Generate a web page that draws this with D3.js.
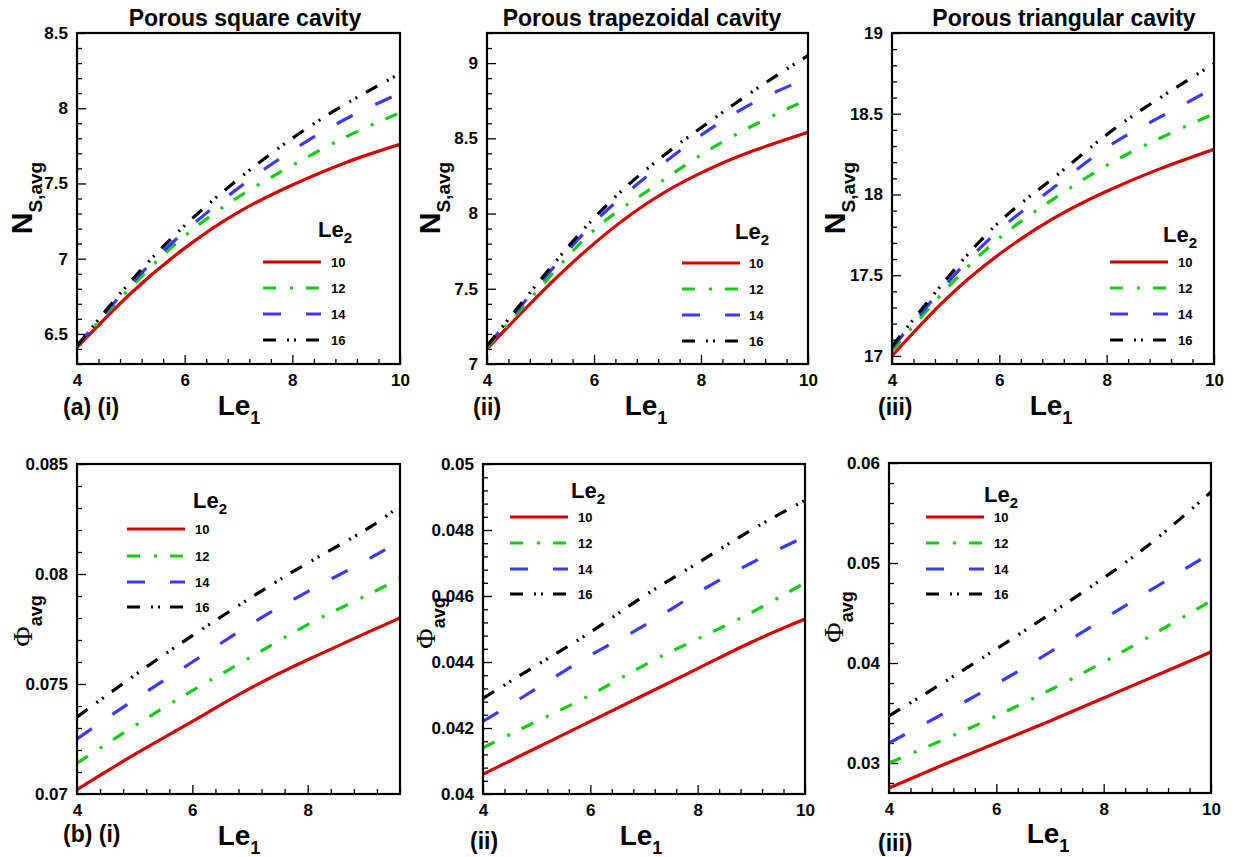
<!DOCTYPE html>
<html><head><meta charset="utf-8">
<script src="https://cdn.jsdelivr.net/npm/d3@7"></script>
<style>
body{margin:0;background:#fff;}
text{font-family:"Liberation Sans",Arial,Helvetica,sans-serif;font-weight:bold;fill:#000;}
.serif{font-family:"Liberation Serif","Times New Roman",serif;font-weight:normal;}
</style></head>
<body>
<svg id="chart" width="1237" height="857"></svg>
<script>
// ---------- data ----------
const le1Full = [4, 5, 6, 7, 8, 9, 10];
const le1Short = [4, 5, 6, 7, 8, 9, 9.6];
const le2Labels = ["10", "12", "14", "16"];

// (a)(i) N_S,avg porous square cavity
const nsSq10 = [6.41, 6.77, 7.07, 7.31, 7.49, 7.64, 7.76];
const nsSq12 = [6.42, 6.81, 7.15, 7.41, 7.62, 7.81, 7.97];
const nsSq14 = [6.42, 6.83, 7.18, 7.47, 7.72, 7.93, 8.10];
const nsSq16 = [6.42, 6.85, 7.22, 7.53, 7.80, 8.03, 8.23];
// (a)(ii) trapezoidal
const nsTrap10 = [7.10, 7.47, 7.80, 8.07, 8.27, 8.42, 8.54];
const nsTrap12 = [7.11, 7.51, 7.89, 8.15, 8.39, 8.59, 8.76];
const nsTrap14 = [7.12, 7.54, 7.94, 8.25, 8.52, 8.74, 8.90];
const nsTrap16 = [7.12, 7.56, 7.97, 8.30, 8.57, 8.82, 9.05];
// (a)(iii) triangular
const nsTri10 = [17.00, 17.35, 17.63, 17.85, 18.02, 18.16, 18.28];
const nsTri12 = [17.03, 17.41, 17.73, 17.97, 18.18, 18.35, 18.50];
const nsTri14 = [17.05, 17.44, 17.78, 18.04, 18.29, 18.48, 18.66];
const nsTri16 = [17.06, 17.47, 17.83, 18.10, 18.37, 18.60, 18.81];
// (b)(i) Phi_avg square
const phiSq10 = [0.0702, 0.0718, 0.0733, 0.0748, 0.0761, 0.0773, 0.0780];
const phiSq12 = [0.0714, 0.0731, 0.0747, 0.0762, 0.0777, 0.0790, 0.0798];
const phiSq14 = [0.0725, 0.0743, 0.0760, 0.0777, 0.0792, 0.0806, 0.0815];
const phiSq16 = [0.0735, 0.0754, 0.0772, 0.0789, 0.0805, 0.0820, 0.0831];
// (b)(ii) trapezoidal
const phiTrap10 = [0.0406, 0.0414, 0.0422, 0.0430, 0.0438, 0.0446, 0.0453];
const phiTrap12 = [0.0414, 0.0422, 0.0430, 0.0439, 0.0447, 0.0455, 0.0464];
const phiTrap14 = [0.0422, 0.0432, 0.0442, 0.0451, 0.0461, 0.0470, 0.0478];
const phiTrap16 = [0.0429, 0.0439, 0.0449, 0.0460, 0.0470, 0.0480, 0.0489];
// (b)(iii) triangular
const phiTri10 = [0.0275, 0.0298, 0.0320, 0.0342, 0.0365, 0.0388, 0.0411];
const phiTri12 = [0.0300, 0.0323, 0.0347, 0.0373, 0.0401, 0.0431, 0.0462];
const phiTri14 = [0.0320, 0.0349, 0.0379, 0.0411, 0.0444, 0.0477, 0.0510];
const phiTri16 = [0.0347, 0.0380, 0.0414, 0.0449, 0.0485, 0.0525, 0.0571];

// tick labels
const xTicksFull = [4, 6, 8, 10];
const xTicksShort = [4, 6, 8];
const yTicksNsSq = [6.5, 7, 7.5, 8, 8.5];
const yTicksNsTrap = [7, 7.5, 8, 8.5, 9];
const yTicksNsTri = [17, 17.5, 18, 18.5, 19];
const yTicksPhiSq = [0.07, 0.075, 0.08, 0.085];
const yTicksPhiTrap = [0.04, 0.042, 0.044, 0.046, 0.048, 0.05];
const yTicksPhiTri = [0.03, 0.04, 0.05, 0.06];

const titles = ["Porous square cavity", "Porous trapezoidal cavity", "Porous triangular cavity"];
const panelTags = ["(a) (i)", "(ii)", "(iii)", "(b) (i)", "(ii)", "(iii)"];

// ---------- styles ----------
const colors = ["#d40000", "#12cc12", "#3a3aff", "#000000"];
const dashes = [null, "13,14,3,13", "18,25", "13,11,2,5,2,10"];

// ---------- panel layout ----------
const panels = [
  {L:77, R:400, T:33, B:364, xd:[4,10], xt:xTicksFull, xm:0.4, yd:[6.3,8.5], yt:yTicksNsSq, ym:0.1,
   xs:le1Full, s:[nsSq10,nsSq12,nsSq14,nsSq16], kind:"ns",
   lg:{tx:318, ty:237, x0:263, x1:321, ys:[262,288,314,340], lx:331},
   yl:{x:32, y:198}, xl:{x:239, y:415}, tag:{x:63, y:415}, title:{x:245, y:26, t:titles[0]}, tagText:panelTags[0]},
  {L:487, R:808, T:33, B:364, xd:[4,10], xt:xTicksFull, xm:0.4, yd:[7,9.2], yt:yTicksNsTrap, ym:0.1,
   xs:le1Full, s:[nsTrap10,nsTrap12,nsTrap14,nsTrap16], kind:"ns",
   lg:{tx:735, ty:239, x0:682, x1:740, ys:[263,289,315,341], lx:749},
   yl:{x:440, y:198}, xl:{x:646, y:415}, tag:{x:473, y:415}, title:{x:642, y:26, t:titles[1]}, tagText:panelTags[1]},
  {L:892, R:1214, T:33, B:364, xd:[4,10], xt:xTicksFull, xm:0.4, yd:[16.95,19], yt:yTicksNsTri, ym:0.1,
   xs:le1Full, s:[nsTri10,nsTri12,nsTri14,nsTri16], kind:"ns",
   lg:{tx:1163, ty:242, x0:1110, x1:1168, ys:[262,288,314,340], lx:1178},
   yl:{x:845, y:198}, xl:{x:1051, y:415}, tag:{x:878, y:415}, title:{x:1064, y:26, t:titles[2]}, tagText:panelTags[2]},
  {L:77, R:400, T:464, B:794, xd:[4,9.6], xt:xTicksShort, xm:0.4, yd:[0.07,0.085], yt:yTicksPhiSq, ym:0.001,
   xs:le1Short, s:[phiSq10,phiSq12,phiSq14,phiSq16], kind:"phi",
   lg:{tx:193, ty:508, x0:127, x1:185, ys:[529,556,582,607], lx:195},
   yl:{x:32, y:621}, xl:{x:239, y:845}, tag:{x:63, y:842}, title:null, tagText:panelTags[3]},
  {L:483, R:805, T:464, B:794, xd:[4,10], xt:xTicksFull, xm:0.4, yd:[0.04,0.05], yt:yTicksPhiTrap, ym:0.0004,
   xs:le1Full, s:[phiTrap10,phiTrap12,phiTrap14,phiTrap16], kind:"phi",
   lg:{tx:571, ty:498, x0:510, x1:568, ys:[517,543,569,594], lx:578},
   yl:{x:435, y:623}, xl:{x:641, y:845}, tag:{x:470, y:849}, title:null, tagText:panelTags[4]},
  {L:889, R:1211, T:463, B:793, xd:[4,10], xt:xTicksFull, xm:0.4, yd:[0.027,0.06], yt:yTicksPhiTri, ym:0.002,
   xs:le1Full, s:[phiTri10,phiTri12,phiTri14,phiTri16], kind:"phi",
   lg:{tx:984, ty:502, x0:926, x1:984, ys:[517,543,569,594], lx:994},
   yl:{x:843, y:617}, xl:{x:1048, y:843}, tag:{x:878, y:851}, title:null, tagText:panelTags[5]}
];

const svg = d3.select("#chart");
const defs = svg.append("defs");

panels.forEach((p, i) => {
  const x = d3.scaleLinear().domain(p.xd).range([p.L, p.R]);
  const y = d3.scaleLinear().domain(p.yd).range([p.B, p.T]);
  const g = svg.append("g");

  defs.append("clipPath").attr("id", "clip" + i)
    .append("rect").attr("x", p.L).attr("y", p.T).attr("width", p.R - p.L).attr("height", p.B - p.T);

  // minor ticks
  const eps = 1e-9;
  const xMinor = d3.range(p.xd[0], p.xd[1] + eps, p.xm).filter(v => !p.xt.some(t => Math.abs(t - v) < 1e-6));
  const yMinor = d3.range(Math.ceil(p.yd[0] / p.ym - 1e-6) * p.ym, p.yd[1] + p.ym * 1e-3, p.ym)
    .filter(v => !p.yt.some(t => Math.abs(t - v) < p.ym * 1e-3));

  const xAxisMinor = d3.axisBottom(x).tickValues(xMinor).tickSize(-5).tickFormat("");
  const yAxisMinor = d3.axisLeft(y).tickValues(yMinor).tickSize(-5).tickFormat("");
  const xAxis = d3.axisBottom(x).tickValues(p.xt).tickSize(-9).tickPadding(10).tickFormat(d => String(d));
  const yAxis = d3.axisLeft(y).tickValues(p.yt).tickSize(-9).tickPadding(9).tickFormat(d => String(d));

  [[xAxisMinor, "b"], [xAxis, "b"], [yAxisMinor, "l"], [yAxis, "l"]].forEach(([ax, side]) => {
    const a = g.append("g")
      .attr("transform", side === "b" ? `translate(0,${p.B})` : `translate(${p.L},0)`)
      .call(ax);
    a.select(".domain").remove();
    a.selectAll("line").attr("stroke", "#000").attr("stroke-width", 1.3);
    a.selectAll("text").style("font-family", '"Liberation Sans",Arial,sans-serif')
      .style("font-weight", "bold").style("font-size", "17px").attr("fill", "#000");
  });

  // curves
  const line = d3.line().x(d => x(d[0])).y(d => y(d[1])).curve(d3.curveNatural);
  const lg = g.append("g").attr("clip-path", `url(#clip${i})`);
  p.s.forEach((vals, k) => {
    const pts = p.xs.map((xv, j) => [xv, vals[j]]);
    lg.append("path").attr("d", line(pts)).attr("fill", "none")
      .attr("stroke", colors[k]).attr("stroke-width", 3.2)
      .attr("stroke-dasharray", dashes[k]);
  });

  // frame
  g.append("rect").attr("x", p.L).attr("y", p.T).attr("width", p.R - p.L).attr("height", p.B - p.T)
    .attr("fill", "none").attr("stroke", "#000").attr("stroke-width", 2.2);

  // legend
  const L = p.lg;
  const lt = g.append("text").attr("x", L.tx).attr("y", L.ty).style("font-size", "22px");
  lt.append("tspan").text("Le");
  lt.append("tspan").attr("dy", 6).style("font-size", "15px").text("2");
  le2Labels.forEach((lab, k) => {
    g.append("line").attr("x1", L.x0).attr("x2", L.x1).attr("y1", L.ys[k]).attr("y2", L.ys[k])
      .attr("stroke", colors[k]).attr("stroke-width", 3.2).attr("stroke-dasharray", dashes[k]);
    g.append("text").attr("x", L.lx).attr("y", L.ys[k] + 5).style("font-size", "13px").text(lab);
  });

  // y label
  const yl = g.append("text").attr("transform", `translate(${p.yl.x},${p.yl.y}) rotate(-90)`)
    .attr("text-anchor", "middle");
  if (p.kind === "ns") {
    yl.append("tspan").style("font-size", "30px").text("N");
    yl.append("tspan").attr("dy", 10).style("font-size", "19px").text("S,avg");
  } else {
    yl.append("tspan").attr("class", "serif").style("font-size", "28px").text("\u03A6");
    yl.append("tspan").attr("dy", 10).style("font-size", "18px").text("avg");
  }

  // x label
  const xl = g.append("text").attr("x", p.xl.x).attr("y", p.xl.y).attr("text-anchor", "middle");
  xl.append("tspan").style("font-size", "28px").text("Le");
  xl.append("tspan").attr("dy", 9).style("font-size", "18px").text("1");

  // panel tag
  g.append("text").attr("x", p.tag.x).attr("y", p.tag.y).style("font-size", "23px").text(p.tagText);

  // title
  if (p.title) {
    g.append("text").attr("x", p.title.x).attr("y", p.title.y).attr("text-anchor", "middle")
      .style("font-size", "23px").text(p.title.t);
  }
});
</script>
</body></html>
